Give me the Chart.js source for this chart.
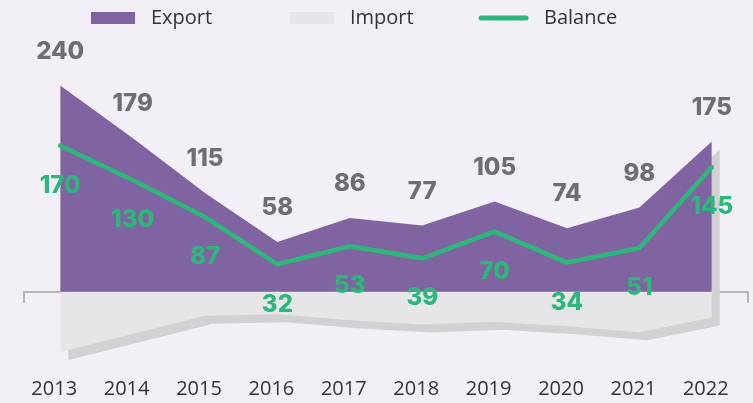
<!DOCTYPE html>
<html>
<head>
<meta charset="utf-8">
<script src="https://cdn.jsdelivr.net/npm/chart.js@4.4.1/dist/chart.umd.min.js"></script>
<style>
  html, body { margin: 0; padding: 0; background: #f2eff6; }
  #wrap { width: 753px; height: 403px; }
</style>
</head>
<body>
<div id="wrap"><canvas id="chart"></canvas></div>
<script>
// Yearly trade figures
const years = ['2013', '2014', '2015', '2016', '2017', '2018', '2019', '2020', '2021', '2022']
const exportValues = [240, 179, 115, 58, 86, 77, 105, 74, 98, 175]
const importValues = [70, 49, 28, 26, 33, 38, 35, 40, 47, 30]
const balanceValues = [170, 130, 87, 32, 53, 39, 70, 34, 51, 145]

const colors = {
  export: '#8064a2',
  import: '#e6e6e8',
  shadow: '#d1d1d4',
  balance: '#2db77a',
  exportLabel: '#6d6e71',
  axis: '#b8b8bb',
  text: '#333333'
}

// Hard drop shadow behind the export + import block
const shadowPlugin = {
  id: 'blockShadow',
  beforeDatasetsDraw(chart) {
    const top = chart.getDatasetMeta(0).data
    const bottom = chart.getDatasetMeta(1).data
    const ctx = chart.ctx
    ctx.save()
    ctx.translate(8, 8)
    ctx.beginPath()
    top.forEach((p, i) => i === 0 ? ctx.moveTo(p.x, p.y) : ctx.lineTo(p.x, p.y))
    for (let i = bottom.length - 1; i >= 0; i--) {
      ctx.lineTo(bottom[i].x, bottom[i].y)
    }
    ctx.closePath()
    ctx.fillStyle = colors.shadow
    ctx.fill()
    ctx.restore()
  }
}

// Value labels above export, below balance
const valueLabels = {
  id: 'valueLabels',
  afterDraw(chart) {
    const ctx = chart.ctx
    ctx.save()
    ctx.font = '800 24px Inter'
    ctx.textAlign = 'center'
    ctx.textBaseline = 'middle'
    chart.getDatasetMeta(0).data.forEach((p, i) => {
      ctx.fillStyle = colors.exportLabel
      ctx.fillText(String(exportValues[i]), p.x, p.y - 34)
    })
    chart.getDatasetMeta(2).data.forEach((p, i) => {
      ctx.fillStyle = colors.balance
      ctx.fillText(String(balanceValues[i]), p.x, p.y + 40)
    })
    ctx.restore()
  }
}

// Legend drawn by hand so spacing matches the original
const legendPlugin = {
  id: 'topLegend',
  afterDraw(chart) {
    const ctx = chart.ctx
    const xs = [91, 290, 479]
    const y = 18
    ctx.save()
    ctx.font = '20px "Open Sans"'
    ctx.textBaseline = 'middle'
    chart.data.datasets.forEach((ds, i) => {
      const x = xs[i]
      let w = 44
      if (!ds.fill) {
        w = 49
        ctx.strokeStyle = ds.borderColor
        ctx.lineWidth = 5
        ctx.lineCap = 'round'
        ctx.beginPath()
        ctx.moveTo(x + 2, y)
        ctx.lineTo(x + w - 2, y)
        ctx.stroke()
      } else {
        ctx.fillStyle = ds.backgroundColor
        ctx.fillRect(x, y - 6, w, 12)
      }
      ctx.fillStyle = colors.text
      ctx.fillText(ds.label, x + w + 16, y)
    })
    ctx.restore()
  }
}

const config = {
  type: 'line',
  data: {
    labels: years,
    datasets: [
      {
        label: 'Export',
        data: exportValues,
        fill: 'origin',
        backgroundColor: colors.export,
        borderColor: colors.export,
        borderWidth: 0,
        pointRadius: 0,
        tension: 0,
        order: 1
      },
      {
        label: 'Import',
        data: importValues.map(v => -v),
        fill: 'origin',
        backgroundColor: colors.import,
        borderColor: colors.import,
        borderWidth: 0,
        pointRadius: 0,
        tension: 0,
        order: 2
      },
      {
        label: 'Balance',
        data: balanceValues,
        fill: false,
        borderColor: colors.balance,
        borderWidth: 4.5,
        borderCapStyle: 'round',
        borderJoinStyle: 'round',
        pointRadius: 0,
        tension: 0,
        order: 0
      }
    ]
  },
  options: {
    responsive: true,
    maintainAspectRatio: false,
    animation: false,
    layout: {
      padding: { top: 40, left: 24, right: 5, bottom: 1 }
    },
    plugins: {
      legend: { display: false },
      tooltip: { enabled: false }
    },
    scales: {
      x: {
        type: 'category',
        offset: true,
        grid: { display: false, drawTicks: false },
        border: { display: false },
        ticks: {
          color: colors.text,
          padding: 3,
          labelOffset: -6,
          font: { family: 'Open Sans', size: 20, lineHeight: 1 }
        }
      },
      xBase: {
        type: 'category',
        labels: years,
        offset: true,
        position: { y: 0 },
        z: 1,
        grid: {
          offset: true,
          drawOnChartArea: false,
          drawTicks: true,
          tickLength: 10,
          color: colors.axis,
          lineWidth: 2
        },
        border: { display: true, color: colors.axis, width: 2 },
        ticks: { display: false }
      },
      y: {
        display: false,
        min: -98,
        max: 293
      }
    }
  },
  plugins: [shadowPlugin, valueLabels, legendPlugin]
}

new Chart(document.getElementById('chart'), config)
</script>
</body>
</html>
